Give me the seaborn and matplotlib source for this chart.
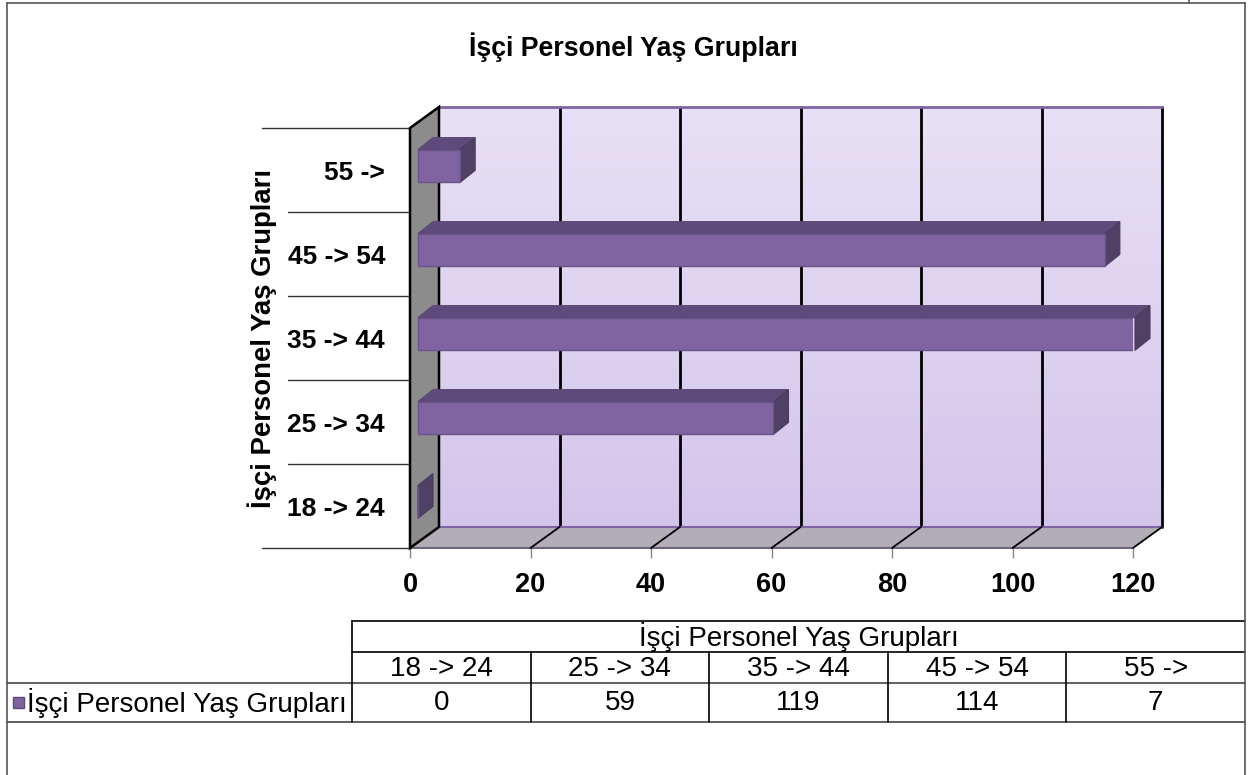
import numpy as np
import pandas as pd
import seaborn as sns
import matplotlib.pyplot as plt
from matplotlib import transforms
from matplotlib.patches import Polygon
from matplotlib.lines import Line2D

# Data
age_groups = ["18 -> 24", "25 -> 34", "35 -> 44", "45 -> 54", "55 ->"]
workers = [0, 59, 119, 114, 7]
x_ticks = [0, 20, 40, 60, 80, 100, 120]
title = "İşçi Personel Yaş Grupları"
series_name = "İşçi Personel Yaş Grupları"

W, H = 1250, 775

# 3D look (in pixels)
WALL_DX, WALL_DY = 29, 21
BAR_DX, BAR_DY = 8, 4
DEPTH_X, DEPTH_Y = 15, 12

BAR_FRONT = "#8064A2"
BAR_TOP = "#5F4B7B"
BAR_SIDE = "#504066"
WALL = "#8C8C8C"
FLOOR = "#B3ADB8"


def fx(px):
    return px / W


def fy(py):
    return 1 - py / H


def main():
    sns.set_theme(style="white")
    plt.rcParams['font.family'] = ['Liberation Sans', 'DejaVu Sans']

    df = pd.DataFrame({"group": age_groups, "value": workers})

    fig = plt.figure(figsize=(W / 100, H / 100), dpi=100)
    ax = fig.add_axes([fx(410), fy(548), fx(1133) - fx(410), fy(128) - fy(548)])
    ax.set_facecolor("none")

    sns.barplot(data=df, x="value", y="group", order=age_groups[::-1], orient="h",
                color=BAR_FRONT, saturation=1, width=0.39, ax=ax, zorder=5,
                edgecolor="#6A5388", linewidth=1)
    ax.set_xlim(0, 120)
    ax.set_ylim(4.5, -0.5)
    ax.set_xticks(x_ticks)
    ax.set_xlabel("")
    ax.set_ylabel("")
    for s in ax.spines.values():
        s.set_visible(False)

    ident = transforms.IdentityTransform()
    wall_tr = transforms.offset_copy(ax.transData, fig=fig, x=WALL_DX, y=WALL_DY, units='dots')
    bar_tr = transforms.offset_copy(ax.transData, fig=fig, x=BAR_DX, y=BAR_DY, units='dots')

    # 3D faces of the bars, built from the seaborn patches
    bars = list(ax.patches)
    for patch in bars:
        patch.set_transform(bar_tr)
        x0, y0 = patch.get_x(), patch.get_y()
        w, h = patch.get_width(), patch.get_height()
        c = bar_tr.transform([(x0, y0), (x0 + w, y0), (x0 + w, y0 + h), (x0, y0 + h)])
        left, right = c[:, 0].min(), c[:, 0].max()
        bottom, top = c[:, 1].min(), c[:, 1].max()
        top_face = [(left, top), (right, top), (right + DEPTH_X, top + DEPTH_Y),
                    (left + DEPTH_X, top + DEPTH_Y)]
        side_face = [(right, bottom), (right, top), (right + DEPTH_X, top + DEPTH_Y),
                     (right + DEPTH_X, bottom + DEPTH_Y)]
        ax.add_patch(Polygon(top_face, closed=True, transform=ident, clip_on=False,
                             facecolor=BAR_TOP, edgecolor="#5A4875", lw=0.8, zorder=4))
        ax.add_patch(Polygon(side_face, closed=True, transform=ident, clip_on=False,
                             facecolor=BAR_SIDE, edgecolor="#4A3C5E", lw=0.8, zorder=4))

    # back wall with a soft vertical gradient
    steps = 40
    c_top = np.array([0xE7, 0xDF, 0xF5]) / 255
    c_bot = np.array([0xD3, 0xC5, 0xEA]) / 255
    edges = np.linspace(-0.5, 4.5, steps + 1)
    for i in range(steps):
        col = c_top + (c_bot - c_top) * i / (steps - 1)
        pts = wall_tr.transform([(0, edges[i]), (120, edges[i]), (120, edges[i + 1]), (0, edges[i + 1])])
        ax.add_patch(Polygon(pts, closed=True, transform=ident, clip_on=False,
                             facecolor=col, edgecolor=col, lw=0.5, zorder=0))

    # gridlines on the back wall
    for t in x_ticks[1:]:
        pts = wall_tr.transform([(t, -0.5), (t, 4.5)])
        ax.add_line(Line2D(pts[:, 0], pts[:, 1], transform=ident, clip_on=False,
                           color="black", lw=2, zorder=1))
    pts = wall_tr.transform([(0, -0.5), (120, -0.5)])
    ax.add_line(Line2D(pts[:, 0], pts[:, 1], transform=ident, clip_on=False,
                       color="#8064A2", lw=2, zorder=1))

    # floor
    fl_front = ax.transData.transform([(0, 4.5), (120, 4.5)])
    fl_back = wall_tr.transform([(0, 4.5), (120, 4.5)])
    floor = [fl_front[0], fl_front[1], fl_back[1], fl_back[0]]
    ax.add_patch(Polygon(floor, closed=True, transform=ident, clip_on=False,
                         facecolor=FLOOR, edgecolor="none", zorder=1))
    ax.add_line(Line2D(fl_back[:, 0], fl_back[:, 1], transform=ident, clip_on=False,
                       color="#8064A2", lw=1.5, zorder=2))
    ax.add_line(Line2D(fl_front[:, 0], fl_front[:, 1], transform=ident, clip_on=False,
                       color="#6E6480", lw=1.5, zorder=2))
    for t in x_ticks[1:]:
        a = ax.transData.transform((t, 4.5))
        b = wall_tr.transform((t, 4.5))
        ax.add_line(Line2D([a[0], b[0]], [a[1], b[1]], transform=ident, clip_on=False,
                           color="black", lw=1.3, zorder=2))

    # left side wall
    lw_front = ax.transData.transform([(0, -0.5), (0, 4.5)])
    lw_back = wall_tr.transform([(0, -0.5), (0, 4.5)])
    side = [lw_front[0], lw_back[0], lw_back[1], lw_front[1]]
    ax.add_patch(Polygon(side, closed=True, transform=ident, clip_on=False,
                         facecolor=WALL, edgecolor="black", lw=1.8, zorder=3))

    # category separators on the left (outer ones run further left)
    ax_w = 1133 - 410
    bounds = np.arange(-0.5, 5.0, 1.0)
    for i, b in enumerate(bounds):
        start = 262 if i in (0, len(bounds) - 1) else 288
        ax.plot([(start - 410) / ax_w, 0], [b, b], transform=ax.get_yaxis_transform(),
                clip_on=False, color="#333333", lw=1, zorder=2)

    ax.tick_params(axis='y', length=0, pad=18)
    ax.tick_params(axis='x', length=7, width=1, color="#888888", pad=10, bottom=True)
    for lbl in ax.get_yticklabels():
        lbl.set_fontsize(19)
        lbl.set_fontweight("bold")
        lbl.set_color("black")
    for lbl in ax.get_xticklabels():
        lbl.set_fontsize(19.5)
        lbl.set_fontweight("bold")
        lbl.set_color("black")

    # title and rotated axis title
    fig.text(fx(633), fy(47), title, ha="center", va="center", fontsize=19.3,
             fontweight="bold", color="black")
    fig.text(fx(262), fy(338), series_name, ha="center", va="center", rotation=90,
             fontsize=19.8, fontweight="bold", color="black")

    # data table under the chart
    col_edges = np.linspace(352, 1245, len(age_groups) + 1)
    y_top, y_head, y_cat, y_bot = 621, 652, 683, 722

    def hline(x0, x1, y, color="black", lw=1.2):
        fig.add_artist(Line2D([fx(x0), fx(x1)], [fy(y), fy(y)], color=color, lw=lw))

    def vline(x, y0, y1, color="black", lw=1.2):
        fig.add_artist(Line2D([fx(x), fx(x)], [fy(y0), fy(y1)], color=color, lw=lw))

    hline(352, 1245, y_top)
    hline(352, 1245, y_head)
    hline(7, 1245, y_cat, color="#444444")
    hline(7, 1245, y_bot, color="#444444")
    vline(352, y_top, y_bot)
    for xe in col_edges[1:-1]:
        vline(xe, y_head, y_bot)

    fs_table = 20
    fig.text(fx((352 + 1245) / 2), fy((y_top + y_head) / 2 + 1), series_name,
             ha="center", va="center", fontsize=fs_table, color="black")
    for i, (g, v) in enumerate(zip(age_groups, workers)):
        xc = (col_edges[i] + col_edges[i + 1]) / 2
        fig.text(fx(xc), fy((y_head + y_cat) / 2 + 1), g, ha="center", va="center",
                 fontsize=fs_table, color="black")
        fig.text(fx(xc), fy((y_cat + y_bot) / 2 + 1), str(v), ha="center", va="center",
                 fontsize=fs_table, color="black")
    # legend key
    fig.add_artist(plt.Rectangle((fx(13), fy(708)), fx(11), fy(697) - fy(708),
                                 facecolor=BAR_FRONT, edgecolor="#5F4B7B", lw=1))
    fig.text(fx(27), fy((y_cat + y_bot) / 2 + 1), series_name, ha="left", va="center",
             fontsize=fs_table, color="black")

    # outer frame
    vline(7, 3, 775, color="#555555")
    vline(1245, 3, 775, color="#555555")
    hline(7, 1245, 3, color="#555555")
    vline(1189, 0, 3, color="#555555")

    fig.savefig("out.png", dpi=100)
    plt.close(fig)


if __name__ == "__main__":
    main()
